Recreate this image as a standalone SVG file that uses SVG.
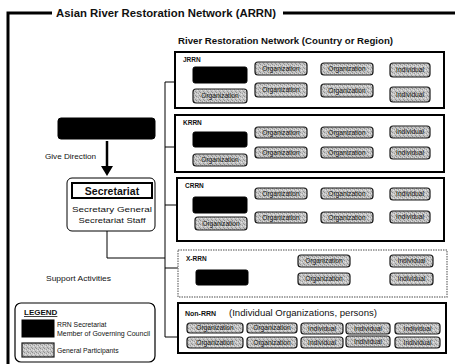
<svg xmlns="http://www.w3.org/2000/svg" width="455" height="364" viewBox="0 0 455 364">
<defs>
<pattern id="stip" width="4" height="4" patternUnits="userSpaceOnUse">
<rect width="4" height="4" fill="#c4c4c4"/>
<rect x="0" y="0" width="1" height="1" fill="#8e8e8e"/>
<rect x="2" y="1" width="1" height="1" fill="#9c9c9c"/>
<rect x="1" y="2" width="1" height="1" fill="#e4e4e4"/>
<rect x="3" y="3" width="1" height="1" fill="#969696"/>
<rect x="3" y="1" width="1" height="1" fill="#dedede"/>
</pattern>
</defs>
<style>
text{font-family:"Liberation Sans",Arial,sans-serif;fill:#111}
.pill{fill:url(#stip);stroke:#1a1a1a;stroke-width:1.2}
.pt{font-size:6.6px;text-anchor:middle}
.blk{fill:#000;stroke:#000}
.grp{fill:#fff;stroke:#000;stroke-width:2}
.xr{fill:#fff;stroke:#888;stroke-width:1.5;stroke-dasharray:1.5 1}
.lbl{font-size:6.5px;font-weight:bold}
.conn{fill:none;stroke:#000;stroke-width:1}
.sm{font-size:8px}
.lg{font-size:6.8px}
</style>
<rect width="455" height="364" fill="#fff"/>

<g id="frame">
<path d="M52,13 H8 V364 M283,13 H455" fill="none" stroke="#000" stroke-width="3"/>
<text x="56" y="17" font-size="10.5" font-weight="bold" textLength="220" lengthAdjust="spacingAndGlyphs">Asian River Restoration Network (ARRN)</text>
<text x="178" y="44" font-size="8.5" font-weight="bold" textLength="215" lengthAdjust="spacingAndGlyphs">River Restoration Network (Country or Region)</text>
</g>

<g id="connectors">
<path class="conn" d="M165,82 V337 M165,82 H175 M165,147 H175 M165,205 H178 M165,268 H178 M165,337 H178"/>
<path class="conn" d="M107,231 V258 H165"/>
<line x1="107" y1="141" x2="107" y2="168" stroke="#000" stroke-width="2.5"/>
<polygon points="101,166 113,166 107,176" fill="#000"/>
</g>

<g id="council">
<rect x="58" y="118" width="97" height="21" rx="3" class="blk"/>
</g>
<text x="45" y="159" class="sm" textLength="51" lengthAdjust="spacingAndGlyphs">Give Direction</text>

<g id="secretariat">
<rect x="67" y="178" width="88" height="53" rx="5" fill="#fff" stroke="#000" stroke-width="1"/>
<rect x="72" y="183" width="80" height="15" fill="#fff" stroke="#000" stroke-width="2"/>
<text x="112" y="194.5" font-size="10.5" font-weight="bold" text-anchor="middle">Secretariat</text>
<text x="112" y="212" font-size="7.8" text-anchor="middle" textLength="80" lengthAdjust="spacingAndGlyphs">Secretary General</text>
<text x="112" y="223" font-size="7.8" text-anchor="middle" textLength="67" lengthAdjust="spacingAndGlyphs">Secretariat Staff</text>
</g>
<text x="46" y="281" class="sm" textLength="65" lengthAdjust="spacingAndGlyphs">Support Activities</text>

<g id="legend">
<rect x="15" y="303" width="140" height="59" rx="6" fill="#fff" stroke="#000" stroke-width="1.2"/>
<text x="24" y="315" font-size="8" font-weight="bold" text-decoration="underline">LEGEND</text>
<rect x="22" y="320" width="32" height="17" class="blk"/>
<text x="57" y="327" class="lg">RRN Secretariat</text>
<text x="57" y="335.5" class="lg" textLength="93" lengthAdjust="spacingAndGlyphs">Member of Governing Council</text>
<rect x="22" y="343" width="32" height="14" class="pill"/>
<text x="57" y="352.5" class="lg">General Participants</text>
</g>

<g id="jrrn">
<rect x="175" y="52" width="269" height="56" class="grp"/>
<text x="183" y="62" class="lbl">JRRN</text>
<rect x="193" y="67" width="54" height="16" rx="2" class="blk"/>
<rect x="193" y="89" width="54" height="14" rx="3" class="pill"/><text x="220" y="98.3" class="pt">Organization</text>
<rect x="255" y="62" width="52" height="13" rx="3" class="pill"/><text x="281" y="70.8" class="pt">Organization</text>
<rect x="255" y="83" width="52" height="14" rx="3" class="pill"/><text x="281" y="92.3" class="pt">Organization</text>
<rect x="321" y="63" width="52" height="12" rx="3" class="pill"/><text x="347" y="71.3" class="pt">Organization</text>
<rect x="321" y="84" width="52" height="13" rx="3" class="pill"/><text x="347" y="92.8" class="pt">Organization</text>
<rect x="390" y="63" width="40" height="14" rx="3" class="pill"/><text x="410" y="72.3" class="pt">Individual</text>
<rect x="390" y="87" width="40" height="15" rx="3" class="pill"/><text x="410" y="96.8" class="pt">Individual</text>
</g>

<g id="krrn">
<rect x="175" y="115" width="269" height="57" class="grp"/>
<text x="183" y="125" class="lbl">KRRN</text>
<rect x="193" y="132" width="54" height="15" rx="2" class="blk"/>
<rect x="193" y="154" width="54" height="12" rx="3" class="pill"/><text x="220" y="162.3" class="pt">Organization</text>
<rect x="255" y="127" width="52" height="11" rx="3" class="pill"/><text x="281" y="134.8" class="pt">Organization</text>
<rect x="255" y="147" width="52" height="11" rx="3" class="pill"/><text x="281" y="154.8" class="pt">Organization</text>
<rect x="321" y="127" width="52" height="11" rx="3" class="pill"/><text x="347" y="134.8" class="pt">Organization</text>
<rect x="321" y="147" width="52" height="11" rx="3" class="pill"/><text x="347" y="154.8" class="pt">Organization</text>
<rect x="390" y="126" width="40" height="12" rx="3" class="pill"/><text x="410" y="134.3" class="pt">Individual</text>
<rect x="390" y="147" width="40" height="12" rx="3" class="pill"/><text x="410" y="155.3" class="pt">Individual</text>
</g>

<g id="crrn">
<rect x="177" y="178" width="267" height="63" class="grp"/>
<text x="185" y="188" class="lbl">CRRN</text>
<rect x="193" y="197" width="54" height="16" rx="2" class="blk"/>
<rect x="195" y="217" width="52" height="13" rx="3" class="pill"/><text x="221" y="225.8" class="pt">Organization</text>
<rect x="255" y="188" width="52" height="11" rx="3" class="pill"/><text x="281" y="195.8" class="pt">Organization</text>
<rect x="255" y="212" width="52" height="11" rx="3" class="pill"/><text x="281" y="219.8" class="pt">Organization</text>
<rect x="321" y="188" width="52" height="11" rx="3" class="pill"/><text x="347" y="195.8" class="pt">Organization</text>
<rect x="321" y="212" width="52" height="11" rx="3" class="pill"/><text x="347" y="219.8" class="pt">Organization</text>
<rect x="390" y="188" width="40" height="12" rx="3" class="pill"/><text x="410" y="196.3" class="pt">Individual</text>
<rect x="390" y="211" width="40" height="12" rx="3" class="pill"/><text x="410" y="219.3" class="pt">Individual</text>
</g>

<g id="xrrn">
<rect x="178" y="250" width="269" height="47" class="xr"/>
<text x="186" y="261" class="lbl">X-RRN</text>
<rect x="196" y="270" width="52" height="15" rx="2" class="blk"/>
<rect x="298" y="255" width="52" height="12" rx="3" class="pill"/><text x="324" y="263.3" class="pt">Organization</text>
<rect x="298" y="273" width="52" height="12" rx="3" class="pill"/><text x="324" y="281.3" class="pt">Organization</text>
<rect x="390" y="255" width="43" height="12" rx="3" class="pill"/><text x="411.5" y="263.3" class="pt">Individual</text>
<rect x="390" y="273" width="43" height="12" rx="3" class="pill"/><text x="411.5" y="281.3" class="pt">Individual</text>
</g>

<g id="nonrrn">
<rect x="178" y="303" width="268" height="50" class="grp"/>
<text x="185" y="316" font-size="7" font-weight="bold">Non-RRN</text>
<text x="229" y="316" font-size="9.5" textLength="148" lengthAdjust="spacingAndGlyphs">(Individual Organizations, persons)</text>
<rect x="187" y="323" width="56" height="10" rx="3" class="pill"/><text x="215" y="330.3" class="pt">Organization</text>
<rect x="247" y="323" width="50" height="10" rx="3" class="pill"/><text x="272" y="330.3" class="pt">Organization</text>
<rect x="301" y="323" width="42" height="11" rx="3" class="pill"/><text x="322" y="330.8" class="pt">Individual</text>
<rect x="346" y="323" width="44" height="11" rx="3" class="pill"/><text x="368" y="330.8" class="pt">Individual</text>
<rect x="395" y="323" width="45" height="11" rx="3" class="pill"/><text x="417.5" y="330.8" class="pt">Individual</text>
<rect x="187" y="337" width="56" height="11" rx="3" class="pill"/><text x="215" y="344.8" class="pt">Organization</text>
<rect x="247" y="337" width="50" height="11" rx="3" class="pill"/><text x="272" y="344.8" class="pt">Organization</text>
<rect x="301" y="337" width="42" height="11" rx="3" class="pill"/><text x="322" y="344.8" class="pt">Individual</text>
<rect x="346" y="336" width="44" height="11" rx="3" class="pill"/><text x="368" y="343.8" class="pt">Individual</text>
<rect x="395" y="337" width="45" height="11" rx="3" class="pill"/><text x="417.5" y="344.8" class="pt">Individual</text>
</g>
</svg>
